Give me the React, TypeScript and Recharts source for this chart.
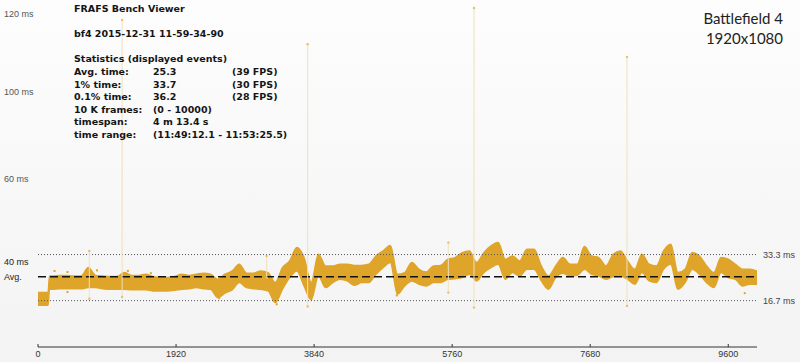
import React from 'react'
import {
  ComposedChart, Area, Scatter, XAxis, YAxis, ReferenceLine,
} from 'recharts'

// frame index of each band sample
const frames = [
  0, 100, 140, 160, 200, 300, 400, 500, 600, 700, 800, 900, 1000, 1100, 1200, 1300, 1400, 1500, 1600, 1700, 1800, 1900,
  2000, 2100, 2200, 2300, 2400, 2500, 2600, 2700, 2800, 2900,
  3000, 3100, 3200, 3300, 3400, 3500, 3600, 3700, 3800, 3900,
  4000, 4100, 4200, 4300, 4400, 4500, 4600, 4700, 4800, 4900,
  5000, 5100, 5200, 5300, 5400, 5500, 5600, 5700, 5800, 5900,
  6000, 6100, 6200, 6300, 6400, 6500, 6600, 6700, 6800, 6900,
  7000, 7100, 7200, 7300, 7400, 7500, 7600, 7700, 7800, 7900,
  8000, 8100, 8200, 8300, 8400, 8500, 8600, 8700, 8800, 8900,
  9000, 9100, 9200, 9300, 9400, 9500, 9600, 9700, 9800, 9900, 10000,
]

// upper edge of the frame-time band (ms)
const bandHigh = [
  19.6, 19.6, 19.6, 25.6, 25.6, 25.8, 25.8, 25.6, 25.6, 28.6, 25.8, 25.6, 25.4, 25.4, 26.8, 25.8, 25.8, 26.2, 25.4, 25.0, 25.0, 25.4,
  26.2, 25.8, 26.2, 26.6, 26.2, 24.4, 26.2, 27.4, 29.8, 26.6,
  26.6, 27.4, 26.8, 23.2, 28.6, 31.0, 35.8, 32.2, 23.2, 33.4,
  29.2, 29.2, 29.8, 29.8, 29.4, 29.4, 29.8, 32.8, 34.6, 36.6,
  26.2, 26.8, 30.4, 28.0, 27.0, 29.2, 29.4, 31.6, 32.2, 34.0,
  34.6, 30.4, 34.0, 36.4, 37.6, 31.6, 32.8, 31.0, 35.2, 35.2,
  29.2, 25.6, 29.2, 32.2, 29.8, 29.8, 36.2, 32.8, 32.2, 29.2,
  33.4, 34.6, 31.0, 28.0, 33.4, 29.8, 29.2, 34.6, 37.0, 26.8,
  28.0, 34.0, 32.8, 29.2, 26.8, 32.2, 31.6, 29.8, 28.0, 28.0, 27.4,
]

// lower edge of the band (ms)
const bandLow = [
  15.0, 15.0, 15.0, 20.8, 20.8, 21.0, 21.0, 21.0, 21.0, 21.4, 21.4, 21.0, 20.8, 20.8, 20.8, 20.6, 20.6, 20.6, 20.2, 20.2, 20.2, 20.4,
  20.8, 21.0, 21.4, 21.0, 20.8, 17.8, 19.4, 20.6, 23.2, 21.4,
  21.0, 20.8, 20.2, 16.0, 20.8, 25.0, 27.4, 22.0, 17.0, 25.6,
  21.4, 23.2, 24.4, 23.8, 22.2, 23.2, 23.2, 26.2, 28.6, 30.4,
  19.0, 22.0, 23.8, 22.6, 22.0, 23.2, 23.2, 24.4, 24.6, 25.0,
  26.2, 23.8, 26.8, 28.6, 29.8, 24.4, 26.8, 25.6, 28.0, 28.0,
  23.8, 20.8, 25.0, 26.6, 25.6, 25.8, 28.0, 26.2, 25.6, 24.4,
  25.4, 25.6, 24.4, 22.6, 26.8, 23.8, 23.2, 28.0, 29.8, 20.8,
  23.2, 28.0, 26.2, 23.2, 21.4, 26.8, 25.0, 24.4, 22.0, 22.6, 22.6,
]

// single-frame spikes
const spikeFrames = [714, 1170, 3180, 3750, 5707, 6064, 8192]
const spikeLow = [17.4, 18.0, 25.0, 14.6, 19.6, 14.2, 14.8]
const spikeHigh = [34.6, 117.8, 32.8, 109.1, 37.6, 122.1, 104.5]

// stray frames just outside the band
const strayFrames = [230, 410, 410, 820, 1250, 1570, 2520, 3320, 4990, 9760, 9830]
const strayValues = [27.4, 27.0, 19.8, 27.6, 27.4, 26.6, 17.6, 15.4, 18.6, 23.0, 19.4]

const xTicks = [0, 1920, 3840, 5760, 7680, 9600]
const yTickValues = [120, 91.9, 60.6, 30.6, 25.3]
const yTickLabels = ['120 ms', '100 ms', '60 ms', '40 ms', 'Avg.']

const avgTime = 25.3
const upperRef = 33.3
const lowerRef = 16.7

const statRows = [
  ['Avg. time:', '25.3', '(39 FPS)'],
  ['1% time:', '33.7', '(30 FPS)'],
  ['0.1% time:', '36.2', '(28 FPS)'],
  ['10 K frames:', '(0 - 10000)', ''],
  ['timespan:', '4 m 13.4 s', ''],
  ['time range:', '(11:49:12.1 - 11:53:25.5)', ''],
]

const BAND = '#dfa52a'
const FONT = '"Liberation Sans", Arial, sans-serif'

const bandData = frames.map((f, i) => ({ f, range: [bandLow[i], bandHigh[i]] }))
const strayData = strayFrames.map((f, i) => ({ f, v: strayValues[i] }))

function YTick(props: any) {
  const { y, payload } = props
  const i = yTickValues.indexOf(payload.value)
  const strong = i >= 3
  return (
    <text x={4} y={y} dy={3} fontSize={9} fontFamily={FONT} fill={strong ? '#222' : '#555'}>
      {yTickLabels[i]}
    </text>
  )
}

function XTick(props: any) {
  const { x, y, payload } = props
  const axisY = y - 8
  return (
    <g>
      <line x1={x} x2={x} y1={axisY - 3} y2={axisY} stroke="#333" />
      <text x={x} y={axisY + 10} textAnchor="middle" fontSize={9} fontFamily={FONT} fill="#333">
        {payload.value}
      </text>
    </g>
  )
}

const textStyle: React.CSSProperties = {
  position: 'absolute', fontFamily: '"DejaVu Sans", sans-serif', fontWeight: 700, fontSize: 9.5,
  color: '#151515', lineHeight: '12px', whiteSpace: 'nowrap',
}

export default function App() {
  return (
    <div style={{
      position: 'absolute', left: 0, top: 0, width: 800, height: 362,
      background: 'linear-gradient(to bottom, #fdfdfd, #f3f3f3)',
    }}>
      <ComposedChart width={800} height={362} data={bandData} margin={{ top: 0, right: 43, bottom: 0, left: 0 }}>
        <XAxis
          dataKey="f" type="number" domain={[0, 10000]} ticks={xTicks} interval={0}
          height={15} tickLine={false} tick={<XTick />}
          axisLine={{ stroke: '#333' }} allowDataOverflow
        />
        <YAxis
          type="number" domain={[0, 125]} ticks={yTickValues} width={38} interval={0}
          axisLine={false} tickLine={false} tick={<YTick />} allowDataOverflow
        />
        <ReferenceLine
          y={upperRef} stroke="#555" strokeDasharray="1 2"
          label={{ value: '33.3 ms', position: 'right', fontSize: 9, fill: '#444', fontFamily: FONT, offset: 6 }}
        />
        <ReferenceLine
          y={lowerRef} stroke="#555" strokeDasharray="1 2"
          label={{ value: '16.7 ms', position: 'right', fontSize: 9, fill: '#444', fontFamily: FONT, offset: 6 }}
        />
        {spikeFrames.map((f, i) => (
          <Scatter
            key={f}
            data={[{ f, v: spikeLow[i] }, { f, v: spikeHigh[i] }]}
            dataKey="v"
            line={{ stroke: '#f1e0bd', strokeWidth: 1 }}
            shape={(p: any) => <circle cx={p.cx} cy={p.cy} r={1.2} fill="#e8bf6a" />}
            isAnimationActive={false}
          />
        ))}
        <Area
          dataKey="range" type="monotoneX" stroke={BAND} strokeWidth={1.5}
          fill={BAND} fillOpacity={1} dot={false} activeDot={false}
          isAnimationActive={false}
        />
        <Scatter
          data={strayData} dataKey="v"
          shape={(p: any) => <rect x={p.cx - 1} y={p.cy - 1} width={2} height={2} fill={BAND} />}
          isAnimationActive={false}
        />
        <ReferenceLine y={avgTime} stroke="#111" strokeWidth={1.5} strokeDasharray="8 4" />
      </ComposedChart>

      <div style={{ ...textStyle, left: 74, top: 3 }}>FRAFS Bench Viewer</div>
      <div style={{ ...textStyle, left: 74, top: 28 }}>bf4 2015-12-31 11-59-34-90</div>
      <div style={{ ...textStyle, left: 74, top: 53 }}>Statistics (displayed events)</div>
      {statRows.map((r, i) => (
        <React.Fragment key={r[0]}>
          <div style={{ ...textStyle, left: 74, top: 66 + i * 12.5 }}>{r[0]}</div>
          <div style={{ ...textStyle, left: 153, top: 66 + i * 12.5 }}>{r[1]}</div>
          {r[2] && <div style={{ ...textStyle, left: 232, top: 66 + i * 12.5 }}>{r[2]}</div>}
        </React.Fragment>
      ))}

      <div style={{
        position: 'absolute', right: 17, top: 8, textAlign: 'right',
        fontFamily: 'Lato, sans-serif', fontSize: 15, lineHeight: '20px', color: '#222',
      }}>
        Battlefield 4<br />1920x1080
      </div>
    </div>
  )
}
